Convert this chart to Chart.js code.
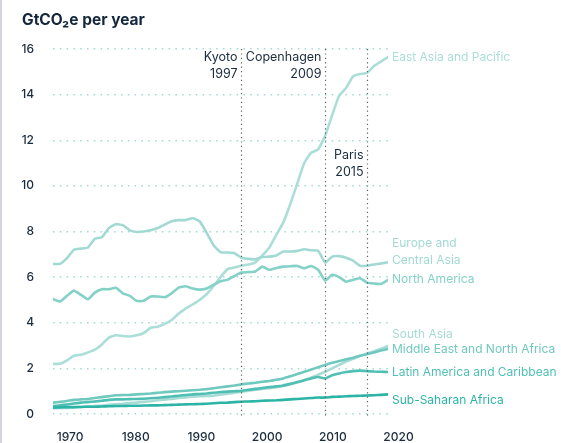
<!DOCTYPE html>
<html>
<head>
<meta charset="utf-8">
<script src="https://cdn.jsdelivr.net/npm/chart.js@4/dist/chart.umd.min.js"></script>
<style>
  body { margin: 0; background: #fff; }
  #wrap { position: relative; width: 561px; height: 443px; }
  #edge { position: absolute; left: 0; top: 0; width: 2px; height: 443px; background: #d4d4dc; }
  #title { position: absolute; left: 22px; top: 10px; font: 700 15.5px Inter, sans-serif; color: #14283c; }
</style>
</head>
<body>
<div id="wrap">
  <canvas id="chart" width="561" height="443"></canvas>
  <div id="edge"></div>
  <div id="title">GtCO₂e per year</div>
</div>
<script>
// years 1970..2018
const years = [];
for (let y = 1970; y <= 2018; y++) years.push(y);

const eastAsia = [2.2,2.2,2.35,2.55,2.6,2.7,2.82,3.05,3.35,3.45,
  3.42,3.4,3.45,3.55,3.78,3.83,3.95,4.12,4.4,4.62,
  4.8,5.0,5.25,5.6,6.0,6.35,6.42,6.5,6.55,6.65,
  6.95,7.3,7.85,8.4,9.2,10.1,11.0,11.45,11.6,12.2,
  13.1,13.95,14.3,14.8,14.9,14.95,15.25,15.45,15.65];
const europe = [6.58,6.58,6.83,7.2,7.25,7.3,7.68,7.75,8.15,8.32,
  8.28,8.05,7.98,8.0,8.05,8.15,8.3,8.45,8.5,8.5,
  8.58,8.45,7.95,7.4,7.1,7.08,7.05,6.85,6.8,6.78,
  6.88,6.9,6.95,7.12,7.12,7.15,7.22,7.18,7.15,6.64,
  6.9,6.92,6.85,6.72,6.5,6.5,6.55,6.6,6.65];
const northAmerica = [5.04,4.93,5.18,5.41,5.22,5.03,5.32,5.47,5.47,5.53,
  5.29,5.18,4.96,4.96,5.15,5.15,5.12,5.29,5.54,5.6,
  5.5,5.45,5.5,5.66,5.82,5.88,6.05,6.2,6.22,6.25,
  6.46,6.32,6.4,6.46,6.48,6.49,6.39,6.49,6.32,5.85,
  6.1,6.0,5.8,5.88,5.95,5.76,5.72,5.7,5.88];
const southAsia = [0.25,0.26,0.27,0.29,0.31,0.33,0.35,0.37,0.4,0.43,
  0.45,0.48,0.5,0.53,0.56,0.6,0.63,0.66,0.7,0.73,
  0.76,0.78,0.79,0.8,0.84,0.89,0.93,0.98,1.02,1.06,
  1.1,1.13,1.17,1.23,1.3,1.38,1.48,1.6,1.72,1.85,
  2.0,2.15,2.3,2.42,2.55,2.65,2.75,2.86,2.98];
const mena = [0.5,0.53,0.57,0.62,0.64,0.66,0.7,0.74,0.78,0.82,
  0.83,0.84,0.86,0.88,0.9,0.93,0.96,0.98,1.0,1.02,
  1.04,1.06,1.09,1.13,1.17,1.21,1.25,1.3,1.34,1.37,
  1.41,1.45,1.5,1.56,1.65,1.75,1.85,1.95,2.05,2.15,
  2.25,2.32,2.4,2.47,2.55,2.62,2.7,2.78,2.85];
const latinAmerica = [0.35,0.38,0.42,0.46,0.5,0.52,0.55,0.58,0.62,0.64,
  0.64,0.65,0.66,0.67,0.69,0.71,0.74,0.77,0.8,0.83,
  0.86,0.88,0.9,0.93,0.96,0.98,1.0,1.02,1.06,1.1,
  1.14,1.18,1.21,1.25,1.32,1.4,1.48,1.56,1.62,1.56,
  1.7,1.78,1.84,1.88,1.9,1.88,1.86,1.85,1.84];
const subSaharan = [0.28,0.29,0.3,0.3,0.31,0.32,0.32,0.33,0.34,0.35,
  0.35,0.36,0.36,0.37,0.38,0.38,0.39,0.4,0.41,0.42,
  0.43,0.44,0.45,0.47,0.49,0.5,0.52,0.54,0.55,0.56,
  0.58,0.59,0.6,0.62,0.64,0.66,0.68,0.7,0.72,0.72,
  0.75,0.76,0.78,0.79,0.8,0.81,0.82,0.84,0.86];

const regionNames = ['East Asia and Pacific', 'Europe and Central Asia', 'North America', 'South Asia',
  'Middle East and North Africa', 'Latin America and Caribbean', 'Sub-Saharan Africa'];
const regionValues = [eastAsia, europe, northAmerica, southAsia, mena, latinAmerica, subSaharan];
const regionColors = ['#abded8', '#a2dad3', '#84d1c8', '#a6dcd5', '#70c9bf', '#4fbfb3', '#2cb4a6'];
// end labels: text lines and the value they sit at
const endLabels = [['East Asia and Pacific'], ['Europe and', 'Central Asia'], ['North America'], ['South Asia'],
  ['Middle East and North Africa'], ['Latin America and Caribbean'], ['Sub-Saharan Africa']];
const endLabelAt = [15.65, 7.5, 5.88, 3.5, 2.85, 1.84, 0.6];

const eventYears = [1997, 2009, 2015];
const eventNames = ['Kyoto', 'Copenhagen', 'Paris'];
const eventLabelAt = [15.66, 15.66, 11.36];

const yTicks = [0, 2, 4, 6, 8, 10, 12, 14, 16];
const xTickLabels = [1970, 1980, 1990, 2000, 2010, 2020];

const FONT = 'Inter, sans-serif';
const INK = '#1b2c3e';

const overlay = {
  id: 'overlay',
  afterDatasetsDraw(chart) {
    const { ctx, scales: { x, y } } = chart;
    ctx.save();
    // event markers
    ctx.strokeStyle = '#5a5f66';
    ctx.lineWidth = 1.2;
    ctx.setLineDash([1.2, 3.2]);
    eventYears.forEach((yr, i) => {
      const px = Math.round(x.getPixelForValue(yr)) + 0.5;
      ctx.beginPath();
      ctx.moveTo(px, y.getPixelForValue(16.0));
      ctx.lineTo(px, y.getPixelForValue(-0.1));
      ctx.stroke();
      ctx.font = '12.5px ' + FONT;
      ctx.fillStyle = INK;
      ctx.textAlign = 'right';
      ctx.textBaseline = 'middle';
      const ly = y.getPixelForValue(eventLabelAt[i]);
      ctx.fillText(eventNames[i], px - 4, ly);
      ctx.fillText(String(yr), px - 4, ly + 17);
    });
    ctx.setLineDash([]);
    // series labels at the line ends
    ctx.font = '12px ' + FONT;
    ctx.textAlign = 'left';
    ctx.textBaseline = 'middle';
    const lx = x.getPixelForValue(years[years.length - 1]) + 4;
    endLabels.forEach((lines, i) => {
      ctx.fillStyle = regionColors[i];
      const ly = y.getPixelForValue(endLabelAt[i]);
      lines.forEach((t, k) => ctx.fillText(t, lx, ly + k * 17));
    });
    ctx.restore();
  }
};

new Chart(document.getElementById('chart'), {
  type: 'line',
  data: {
    datasets: regionValues.map((vals, i) => ({
      label: regionNames[i],
      data: vals.map((v, k) => ({ x: years[k], y: v })),
      borderColor: regionColors[i],
      borderWidth: 2.6,
      pointRadius: 0,
      tension: 0.15,
      borderJoinStyle: 'round',
      borderCapStyle: 'round',
      fill: false
    })).reverse()
  },
  options: {
    responsive: false,
    animation: false,
    layout: { padding: { top: 49, right: 173, left: 0, bottom: 0 } },
    plugins: { legend: { display: false }, tooltip: { enabled: false } },
    scales: {
      x: {
        type: 'linear', min: 1970, max: 2018, display: false
      },
      xl: {
        type: 'linear', position: 'bottom', axis: 'x',
        min: 1967.41, max: 2018.4,
        afterBuildTicks: s => { s.ticks = xTickLabels.map(v => ({ value: v })); },
        afterFit: s => { s.height = 29; },
        grid: { display: false, drawTicks: false },
        border: { display: false },
        ticks: {
          autoSkip: false, maxRotation: 0, padding: 16,
          color: INK, font: { family: FONT, size: 12, weight: 500 },
          callback: v => String(v)
        }
      },
      y: {
        min: 0, max: 16,
        afterBuildTicks: s => { s.ticks = yTicks.map(v => ({ value: v })); },
        afterFit: s => { s.width = 53; },
        grid: { color: '#9fdad2', lineWidth: 1.5, drawTicks: false },
        border: { display: false, dash: [1.5, 5.3] },
        ticks: {
          padding: 19, color: INK, font: { family: FONT, size: 12, weight: 500 }
        }
      }
    }
  },
  plugins: [overlay]
});
</script>
</body>
</html>
